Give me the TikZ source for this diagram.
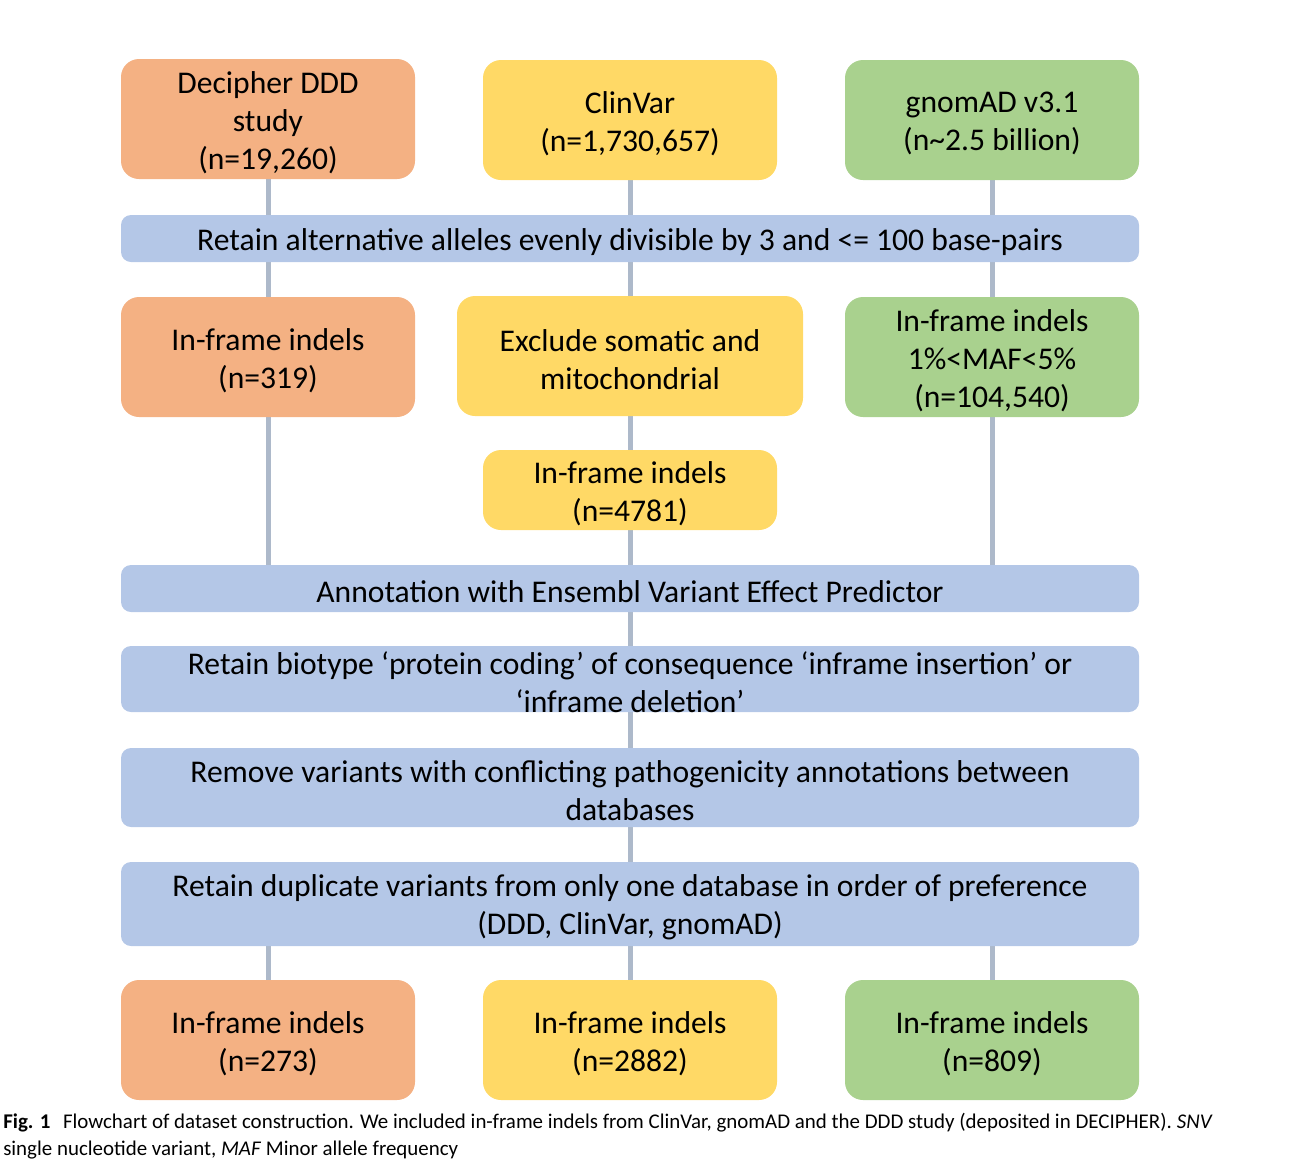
\documentclass[tikz,border=0pt]{standalone}
\usepackage{fontspec}
\setmainfont{Carlito}
\newfontfamily\capfont{Carlito}
\definecolor{corange}{HTML}{F4B183}
\definecolor{cyellow}{HTML}{FFD966}
\definecolor{cgreen}{HTML}{A9D18E}
\definecolor{cblue}{HTML}{B4C7E7}
\definecolor{cline}{HTML}{ADB9CA}
\pgfdeclarelayer{background}
\pgfsetlayers{background,main}
\tikzset{
  boxbase/.style={rectangle, rounded corners=18*0.75pt, inner sep=0pt},
  tx/.style={align=center, inner sep=0pt, yshift=-2.6pt,
     font=\fontsize{23.7}{28.5}\selectfont, text=black},
  obox/.style={boxbase, fill=corange, minimum width=294*0.75pt, minimum height=120*0.75pt},
  ybox/.style={boxbase, fill=cyellow, minimum width=294*0.75pt, minimum height=120*0.75pt},
  gbox/.style={boxbase, fill=cgreen, minimum width=294*0.75pt, minimum height=120*0.75pt},
  bar/.style={boxbase, fill=cblue, rounded corners=10*0.75pt, minimum width=1018*0.75pt},
  conn/.style={draw=cline, line width=5*0.75pt},
}
\begin{document}
\begin{tikzpicture}[x=0.75pt,y=-0.75pt]
\path[use as bounding box] (0,0) rectangle (1303,1175);
% top row
\node[obox, label={[tx]center:Decipher DDD\\study\\(n=19,260)}] (o1) at (268,119) {};
\node[ybox, label={[tx]center:ClinVar\\(n=1,730,657)}] (y1) at (630,120) {};
\node[gbox, label={[tx]center:gnomAD v3.1\\(n\textasciitilde2.5 billion)}] (g1) at (992,120) {};
% bar 1
\node[bar, minimum height=47*0.75pt, label={[tx]center:Retain alternative alleles evenly divisible by 3 and <= 100 base-pairs}] (b1) at (630,238.5) {};
% row 2
\node[obox, label={[tx]center:In-frame indels\\(n=319)}] (o2) at (268,357) {};
\node[ybox, minimum width=346*0.75pt, label={[tx]center:Exclude somatic and\\mitochondrial}] (y2) at (630,356) {};
\node[gbox, label={[tx]center:In-frame indels\\1\%<MAF<5\%\\(n=104,540)}] (g2) at (992,357) {};
\node[ybox, minimum height=80*0.75pt, label={[tx]center:In-frame indels\\(n=4781)}] (y3) at (630,490) {};
% bars
\node[bar, minimum height=47*0.75pt, label={[tx]center:Annotation with Ensembl Variant Effect Predictor}] (b2) at (630,588.5) {};
\node[bar, minimum height=66*0.75pt, label={[tx]center:Retain biotype ‘protein coding’ of consequence ‘inframe insertion’ or\\‘inframe deletion’}] (b3) at (630,679) {};
\node[bar, minimum height=79*0.75pt, label={[tx]center:Remove variants with conflicting pathogenicity annotations between\\databases}] (b4) at (630,787.5) {};
\node[bar, minimum height=84*0.75pt, label={[tx]center:Retain duplicate variants from only one database in order of preference\\(DDD, ClinVar, gnomAD)}] (b5) at (630,904) {};
% bottom row
\node[obox, label={[tx]center:In-frame indels\\(n=273)}] (o3) at (268,1040) {};
\node[ybox, label={[tx]center:In-frame indels\\(n=2882)}] (y4) at (630,1040) {};
\node[gbox, label={[tx]center:In-frame indels\\(n=809)}] (g3) at (992,1040) {};
% caption
\node[anchor=north west, inner sep=0pt, align=left, font=\capfont\fontsize{15.7}{20.25}\selectfont] (cap) at (3,1112.5)
  {\textbf{Fig. 1}\hspace{0.6em}Flowchart of dataset construction. We included in-frame indels from ClinVar, gnomAD and the DDD study (deposited in DECIPHER). \textit{SNV}\\single nucleotide variant, \textit{MAF} Minor allele frequency};
% connectors
\begin{pgfonlayer}{background}
\draw[conn] (o1.south) -- (o1.south |- b1.north);
\draw[conn] (y1.south) -- (b1.north);
\draw[conn] (g1.south) -- (g1.south |- b1.north);
\draw[conn] (o2.north |- b1.south) -- (o2.north);
\draw[conn] (b1.south) -- (y2.north);
\draw[conn] (g2.north |- b1.south) -- (g2.north);
\draw[conn] (o2.south) -- (o2.south |- b2.north);
\draw[conn] (y2.south) -- (y3.north);
\draw[conn] (y3.south) -- (b2.north);
\draw[conn] (g2.south) -- (g2.south |- b2.north);
\draw[conn] (b2.south) -- (b3.north);
\draw[conn] (b3.south) -- (b4.north);
\draw[conn] (b4.south) -- (b5.north);
\draw[conn] (o3.north |- b5.south) -- (o3.north);
\draw[conn] (b5.south) -- (y4.north);
\draw[conn] (g3.north |- b5.south) -- (g3.north);
\end{pgfonlayer}
\end{tikzpicture}
\end{document}
